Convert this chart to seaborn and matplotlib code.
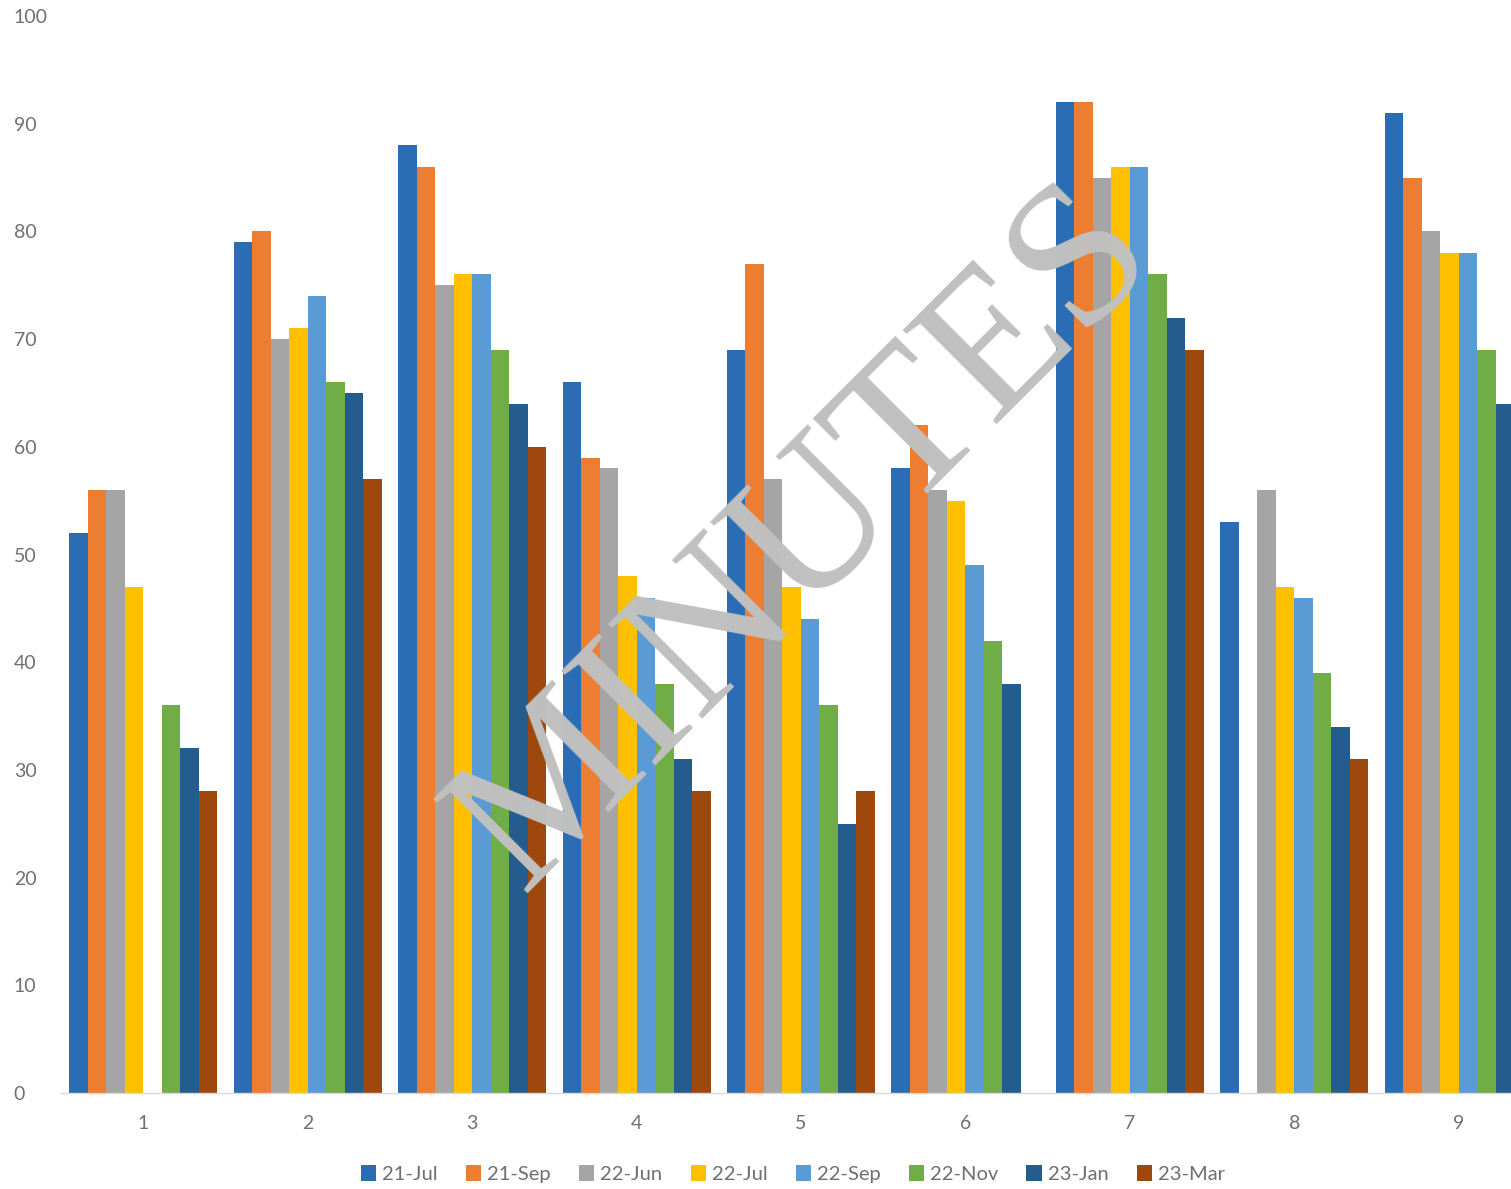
import numpy as np
import pandas as pd
import matplotlib
matplotlib.use("Agg")
import matplotlib.pyplot as plt
import seaborn as sns

# Category labels along the x axis
groups = ["1", "2", "3", "4", "5", "6", "7", "8", "9"]

# Survey rounds (one bar colour each)
series = ["21-Jul", "21-Sep", "22-Jun", "22-Jul", "22-Sep", "22-Nov", "23-Jan", "23-Mar"]

nan = np.nan
jul21 = [52, 79, 88, 66, 69, 58, 92, 53, 91]
sep21 = [56, 80, 86, 59, 77, 62, 92, nan, 85]
jun22 = [56, 70, 75, 58, 57, 56, 85, 56, 80]
jul22 = [47, 71, 76, 48, 47, 55, 86, 47, 78]
sep22 = [nan, 74, 76, 46, 44, 49, 86, 46, 78]
nov22 = [36, 66, 69, 38, 36, 42, 76, 39, 69]
jan23 = [32, 65, 64, 31, 25, 38, 72, 34, 64]
mar23 = [28, 57, 60, 28, 28, nan, 69, 31, nan]

colors = ["#2a6db5", "#ed7d31", "#a5a5a5", "#ffc000",
          "#5b9bd5", "#70ad47", "#245c8e", "#9e480e"]

y_ticks = [0, 10, 20, 30, 40, 50, 60, 70, 80, 90, 100]

values = [jul21, sep21, jun22, jul22, sep22, nov22, jan23, mar23]
df = pd.DataFrame(
    [(g, s, v) for s, vals in zip(series, values) for g, v in zip(groups, vals)],
    columns=["group", "series", "value"],
)

sns.set_theme(style="white")
plt.rcParams["font.family"] = ["Lato", "DejaVu Sans"]

W, H = 1511, 1189
fig = plt.figure(figsize=(W / 100, H / 100), dpi=100)
fig.patch.set_facecolor("white")

# axes band runs slightly past the right edge of the canvas
left_px, right_px, base_px, top_px = 61, 1541, 1093, 16
ax = fig.add_axes([left_px / W, 1 - base_px / H,
                   (right_px - left_px) / W, (base_px - top_px) / H])
ax.set_facecolor("white")

sns.barplot(data=df, x="group", y="value", hue="series", order=groups,
            hue_order=series, palette=colors, width=0.9, saturation=1,
            linewidth=0, errorbar=None, ax=ax, zorder=2)

ax.set_ylim(0, 100)
ax.set_xlim(-0.5, len(groups) - 0.5)
ax.set_yticks(y_ticks)
ax.set_xlabel("")
ax.set_ylabel("")
for side in ["top", "right", "left"]:
    ax.spines[side].set_visible(False)
ax.spines["bottom"].set_color("#d9d9d9")
ax.spines["bottom"].set_linewidth(1.0)
ax.grid(False)

ax.tick_params(axis="y", length=0, pad=34, labelsize=14, labelcolor="#707070")
ax.tick_params(axis="x", length=0, pad=16, labelsize=14, labelcolor="#707070")
for lbl in ax.get_yticklabels():
    lbl.set_horizontalalignment("left")

handles, labels = ax.get_legend_handles_labels()
ax.get_legend().remove()
leg = fig.legend(handles, labels, loc="center", ncol=8,
                 bbox_to_anchor=(793 / W, 1 - 1174 / H), frameon=False,
                 fontsize=14.5, handlelength=0.75, handleheight=0.8,
                 handletextpad=0.3, columnspacing=1.4)
for t in leg.get_texts():
    t.set_color("#6f6f6f")

# diagonal watermark
fig.text(805 / W, 1 - 540 / H, "MINUTES", rotation=45,
         rotation_mode="anchor", ha="center", va="center",
         fontsize=146, family="Liberation Serif", color="#c0c0c0",
         zorder=10)

fig.savefig("out.png", dpi=100, facecolor="white")
